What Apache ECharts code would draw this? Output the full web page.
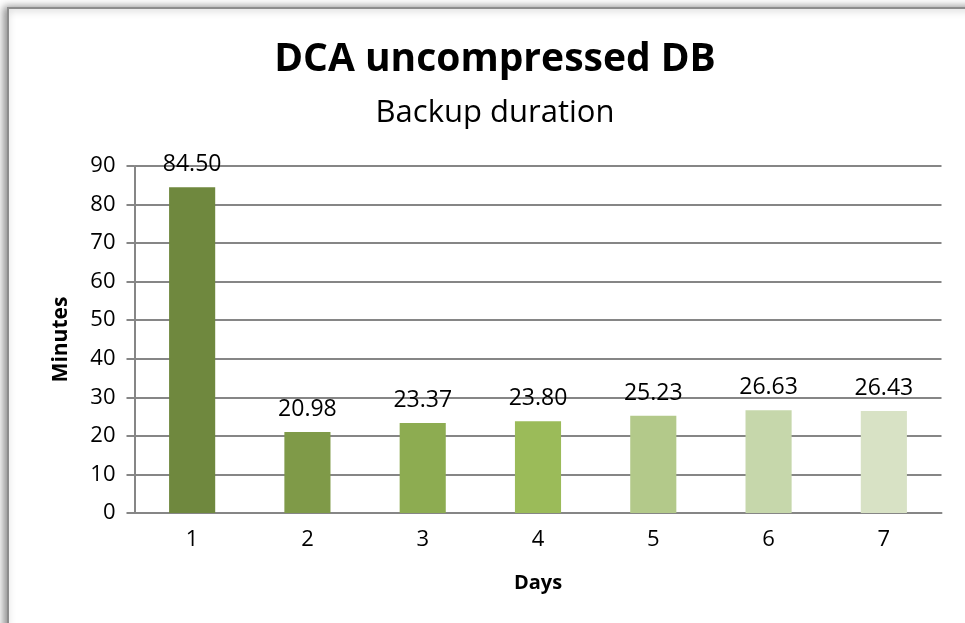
<!DOCTYPE html>
<html><head><meta charset="utf-8">
<script src="https://cdn.jsdelivr.net/npm/echarts@6/dist/echarts.min.js"></script>
<style>html,body{margin:0;padding:0;background:#fff}#c{width:965px;height:623px}</style>
</head><body><div id="c"></div>
<script>
const days = ['1','2','3','4','5','6','7'];
const minutes = [84.50, 20.98, 23.37, 23.80, 25.23, 26.63, 26.43];
const barColors = ['#6f883e','#7f9a48','#8dac51','#9bbb59','#b3c98a','#c6d7ab','#d8e2c5'];
const yTicks = [0,10,20,30,40,50,60,70,80,90];
const font = '"Open Sans", "Liberation Sans", sans-serif';
const chart = echarts.init(document.getElementById('c'));
chart.setOption({
  animation:false,
  backgroundColor:'#fff',
  graphic:[{type:'rect',shape:{x:8,y:8,width:1000,height:700},style:{fill:'#fff',stroke:'#8c8c8c',lineWidth:2,shadowBlur:8,shadowColor:'rgba(0,0,0,0.45)',shadowOffsetX:-3,shadowOffsetY:0},z:-10}],
  title:[{text:'DCA uncompressed DB',left:490,textAlign:'center',top:35,textStyle:{fontFamily:font,fontWeight:'bold',fontSize:39,color:'#000'}},
         {text:'Backup duration',left:490,textAlign:'center',top:93,textStyle:{fontFamily:font,fontWeight:'normal',fontSize:31,color:'#000'}}],
  grid:{left:134.5,right:23.5,top:166,bottom:110},
  xAxis:{type:'category',data:days,name:'Days',nameLocation:'middle',nameGap:60,
    nameTextStyle:{fontFamily:font,fontWeight:'bold',fontSize:20,color:'#000'},
    axisLine:{lineStyle:{color:'#868686',width:2}},axisTick:{show:false},
    axisLabel:{fontFamily:font,fontSize:22,color:'#000',margin:16}},
  yAxis:{type:'value',min:yTicks[0],max:yTicks[yTicks.length-1],interval:10,name:'Minutes',nameLocation:'middle',nameGap:63,
    nameTextStyle:{fontFamily:font,fontWeight:'bold',fontSize:21,color:'#000'},
    axisLine:{show:true,lineStyle:{color:'#868686',width:2}},axisTick:{show:true,length:8,lineStyle:{color:'#868686',width:2}},
    splitLine:{lineStyle:{color:'#868686',width:2}},
    axisLabel:{fontFamily:font,fontSize:22,color:'#000',margin:19}},
  series:[{type:'bar',barWidth:'40%',
    data:minutes.map((v,i)=>({value:v,itemStyle:{color:barColors[i]}})),
    label:{show:true,position:'top',distance:11,fontFamily:font,fontSize:23,color:'#000',formatter:p=>p.value.toFixed(2)}}]
});
</script></body></html>
